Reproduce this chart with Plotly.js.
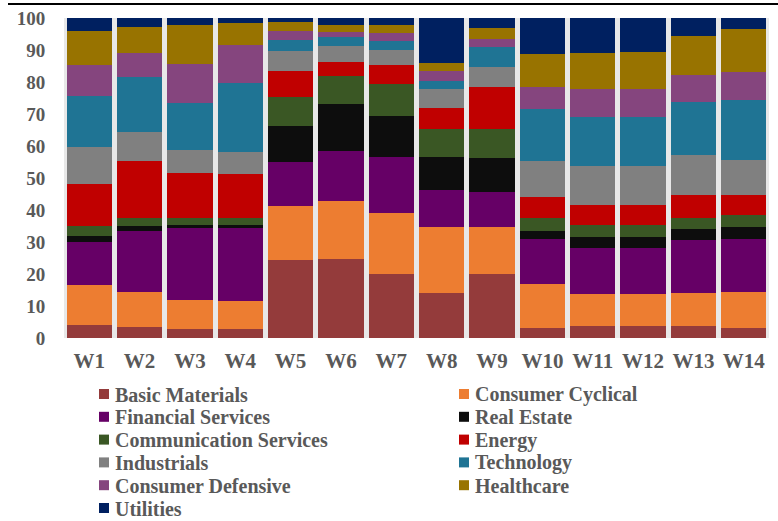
<!DOCTYPE html>
<html>
<head>
<meta charset="utf-8">
<script src="https://cdn.plot.ly/plotly-3.0.1.min.js"></script>
<style>html,body{margin:0;padding:0;background:#fff;}#chart{width:778px;height:521px;}</style>
</head>
<body>
<div id="chart"></div>
<script>
const weeks = ["W1","W2","W3","W4","W5","W6","W7","W8","W9","W10","W11","W12","W13","W14"];
const basicMaterials        = [4.0, 3.3, 2.7, 2.7, 24.5, 24.7, 19.9, 14.0, 19.9, 3.0, 3.85, 3.85, 3.6, 3.2];
const consumerCyclical      = [12.5, 11.2, 9.1, 8.8, 16.75, 18.1, 19.3, 20.7, 14.8, 14.0, 9.75, 9.75, 10.4, 11.3];
const financialServices     = [13.5, 19.0, 22.5, 22.8, 13.75, 15.7, 17.3, 11.4, 10.9, 13.9, 14.5, 14.6, 16.6, 16.5];
const realEstate            = [2.0, 1.4, 1.0, 1.0, 11.4, 14.7, 12.9, 10.5, 10.5, 2.6, 3.4, 3.4, 3.4, 3.7];
const communicationServices = [3.0, 2.7, 2.3, 2.2, 9.0, 8.8, 9.9, 8.6, 9.3, 3.9, 3.8, 3.7, 3.4, 3.7];
const energy                = [13.0, 17.8, 14.1, 13.6, 8.0, 4.25, 6.0, 6.6, 13.0, 6.8, 6.3, 6.4, 7.2, 6.3];
const industrials           = [11.8, 8.9, 7.2, 6.9, 6.4, 5.0, 4.8, 5.9, 6.3, 11.2, 12.15, 12.2, 12.6, 11.0];
const technology            = [15.8, 17.3, 14.5, 21.7, 3.2, 2.7, 2.8, 2.7, 6.3, 16.2, 15.35, 15.3, 16.55, 18.8];
const consumerDefensive     = [9.8, 7.6, 12.1, 12.0, 2.8, 1.7, 2.5, 2.9, 2.3, 6.7, 8.6, 8.6, 8.55, 8.5];
const healthcare            = [10.5, 8.1, 12.3, 6.7, 3.0, 2.1, 2.4, 2.6, 3.6, 10.3, 11.3, 11.5, 12.1, 13.7];
const utilities             = [4.0, 2.7, 2.2, 1.6, 1.25, 2.2, 2.2, 14.1, 3.1, 11.4, 11.0, 10.7, 5.6, 3.3];

const seriesNames = ["Basic Materials","Consumer Cyclical","Financial Services","Real Estate",
  "Communication Services","Energy","Industrials","Technology","Consumer Defensive","Healthcare","Utilities"];
const seriesValues = [basicMaterials, consumerCyclical, financialServices, realEstate,
  communicationServices, energy, industrials, technology, consumerDefensive, healthcare, utilities];
const seriesColors = ["#943B3B","#ED7D31","#660066","#0D0D0D","#3A5724","#C00000",
  "#808080","#1F7494","#85457E","#987300","#002060"];

const traces = seriesNames.map((n, i) => ({
  type: "bar",
  name: n,
  x: weeks,
  y: seriesValues[i],
  marker: {color: seriesColors[i], line: {width: 0}},
  hoverinfo: "name+y"
}));

const W = 778, H = 521;
const M = {l: 64, r: 9, t: 18, b: 183};
const PW = W - M.l - M.r, PH = H - M.t - M.b;
const px = x => (x - M.l) / PW;
const py = y => (H - M.b - y) / PH;

const fam = "Liberation Serif, Times New Roman, serif";
const grey = "#595959";

// Custom two-column legend (Excel style)
const shapes = [{
  type: "line", xref: "paper", yref: "paper",
  x0: px(8), x1: px(778), y0: py(4), y1: py(4),
  line: {color: "#000000", width: 2}
}];
const annotations = [];
seriesNames.forEach((n, i) => {
  const col = i % 2, row = Math.floor(i / 2);
  const cy = 394 + row * 22.8;
  const mx = col === 0 ? 99 : 459;
  shapes.push({
    type: "rect", xref: "paper", yref: "paper",
    x0: px(mx), x1: px(mx + 10), y0: py(cy - 5), y1: py(cy + 5),
    fillcolor: seriesColors[i], line: {width: 0}
  });
  annotations.push({
    xref: "paper", yref: "paper", x: px(mx + 15), y: py(cy + 0.5),
    xanchor: "left", yanchor: "middle", showarrow: false, borderpad: 0,
    text: n, font: {family: fam, color: grey, size: 20, weight: "bold"}
  });
});

const layout = {
  width: W, height: H,
  barmode: "stack",
  bargap: 0.1,
  paper_bgcolor: "#ffffff",
  plot_bgcolor: "#e8e8e8",
  margin: M,
  showlegend: false,
  xaxis: {
    type: "category",
    showgrid: false, zeroline: false, showline: false,
    ticks: "outside", ticklen: 4, tickcolor: "rgba(0,0,0,0)",
    tickfont: {family: fam, color: grey, size: 21, weight: "bold"}
  },
  yaxis: {
    range: [0, 100], dtick: 10,
    showgrid: false, zeroline: false, showline: false,
    ticks: "outside", ticklen: 14, tickcolor: "rgba(0,0,0,0)",
    tickfont: {family: fam, color: grey, size: 19, weight: "bold"}
  },
  shapes: shapes,
  annotations: annotations
};

Plotly.newPlot("chart", traces, layout, {displayModeBar: false, staticPlot: true});
</script>
</body>
</html>
